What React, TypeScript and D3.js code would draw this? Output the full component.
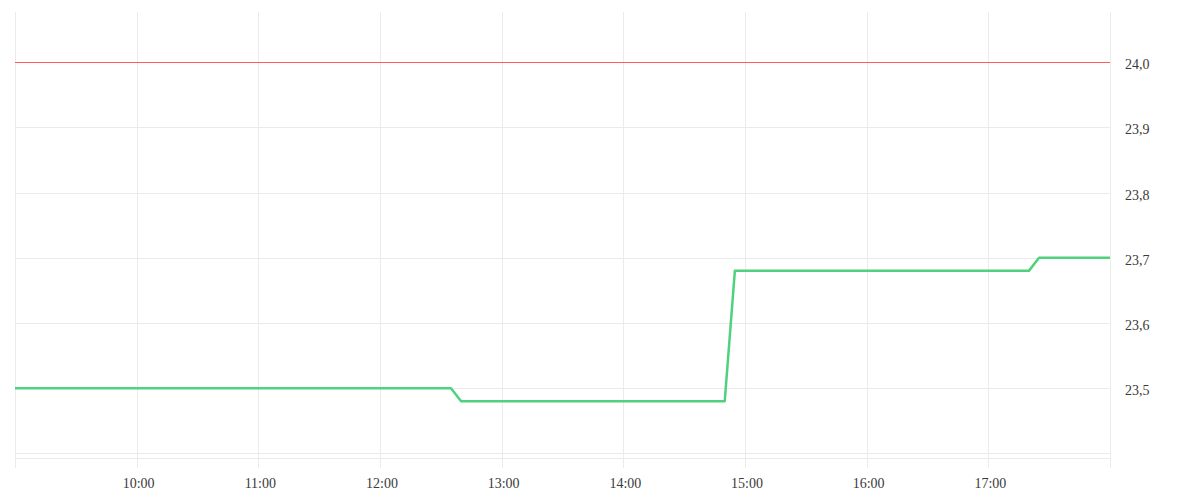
import { useEffect, useRef } from "react";
import * as d3 from "d3";

// sampled temperature readings (time of day, value)
const times = ["09:00", "12:35", "12:40", "14:50", "14:55", "17:20", "17:25", "18:00"];
const values = [23.5, 23.5, 23.48, 23.48, 23.68, 23.68, 23.7, 23.7];
const limitValue = 24.0;
const yTicks = [23.4, 23.5, 23.6, 23.7, 23.8, 23.9, 24.0];
const yLabeled = [23.5, 23.6, 23.7, 23.8, 23.9, 24.0];
const xTickHours = ["10:00", "11:00", "12:00", "13:00", "14:00", "15:00", "16:00", "17:00"];

const parseTime = (s: string) => {
  const [h, m] = s.split(":").map(Number);
  return new Date(2024, 0, 1, h, m);
};

export default function App() {
  const svgRef = useRef<SVGSVGElement | null>(null);

  useEffect(() => {
    const width = 1200;
    const height = 500;
    const left = 15;
    const right = 1110;
    const top = 12;
    const bottom = 458;

    const svg = d3.select(svgRef.current).attr("width", width).attr("height", height);
    svg.selectAll("*").remove();

    const x = d3
      .scaleTime()
      .domain([parseTime("09:00"), parseTime("18:00")])
      .range([left, right]);

    const y = d3.scaleLinear().domain([23.393, 24.077]).range([bottom, top]);

    const locale = d3.formatLocale({
      decimal: ",",
      thousands: ".",
      grouping: [3],
      currency: ["", "€"],
    });
    const fmt = locale.format(".1f");

    const gridColor = "#ebebeb";
    const fontFamily = "'Liberation Serif', serif";

    // vertical grid (hours) + plot edges
    const vLines = [parseTime("09:00"), ...xTickHours.map(parseTime), parseTime("18:00")];
    svg
      .append("g")
      .selectAll("line")
      .data(vLines)
      .join("line")
      .attr("x1", (d) => Math.round(x(d)) + 0.5)
      .attr("x2", (d) => Math.round(x(d)) + 0.5)
      .attr("y1", top)
      .attr("y2", bottom + 10)
      .attr("stroke", gridColor)
      .attr("stroke-width", 1);

    // horizontal grid
    svg
      .append("g")
      .selectAll("line")
      .data(yTicks)
      .join("line")
      .attr("x1", left)
      .attr("x2", right)
      .attr("y1", (d) => Math.round(y(d)) + 0.5)
      .attr("y2", (d) => Math.round(y(d)) + 0.5)
      .attr("stroke", gridColor);

    // bottom edge
    svg
      .append("line")
      .attr("x1", left)
      .attr("x2", right)
      .attr("y1", bottom + 0.5)
      .attr("y2", bottom + 0.5)
      .attr("stroke", gridColor);

    // limit line
    svg
      .append("line")
      .attr("x1", left)
      .attr("x2", right)
      .attr("y1", Math.round(y(limitValue)) + 0.5)
      .attr("y2", Math.round(y(limitValue)) + 0.5)
      .attr("stroke", "#ff5c5c")
      .attr("stroke-width", 1);

    // y labels
    svg
      .append("g")
      .selectAll("text")
      .data(yLabeled)
      .join("text")
      .attr("x", 1125)
      .attr("y", (d) => y(d) + 7)
      .attr("font-family", fontFamily)
      .attr("font-size", "14px")
      .attr("fill", "#3a3a3a")
      .text((d) => fmt(d));

    // x labels
    svg
      .append("g")
      .selectAll("text")
      .data(xTickHours)
      .join("text")
      .attr("x", (d) => x(parseTime(d)) + 2)
      .attr("y", 488)
      .attr("text-anchor", "middle")
      .attr("font-family", fontFamily)
      .attr("font-size", "14px")
      .attr("fill", "#3a3a3a")
      .text((d) => d);

    // data line
    const data = times.map((t, i) => ({ t: parseTime(t), v: values[i] }));
    const line = d3
      .line<{ t: Date; v: number }>()
      .x((d) => x(d.t))
      .y((d) => y(d.v));

    svg
      .append("path")
      .datum(data)
      .attr("d", line)
      .attr("fill", "none")
      .attr("stroke", "#4fd27d")
      .attr("stroke-width", 2.5)
      .attr("stroke-linejoin", "round");
  }, []);

  return (
    <div style={{ position: "absolute", left: 0, top: 0, width: 1200, height: 500, background: "#fff" }}>
      <svg ref={svgRef}></svg>
    </div>
  );
}
